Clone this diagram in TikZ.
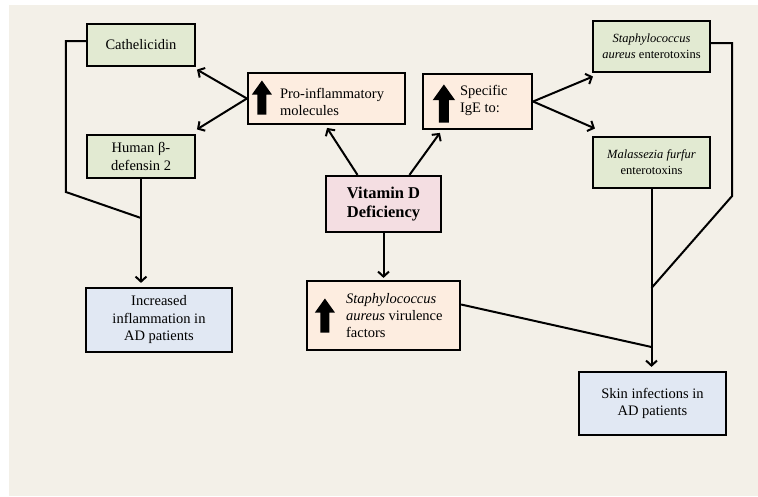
\documentclass[tikz,border=0pt]{standalone}
\usepackage{fontspec}
\setmainfont{Liberation Serif}
\usetikzlibrary{arrows.meta}

\definecolor{bgbeige}{RGB}{243,240,232}
\definecolor{leafgreen}{RGB}{226,234,210}
\definecolor{peach}{RGB}{253,237,224}
\definecolor{rosepink}{RGB}{244,222,226}
\definecolor{paleblue}{RGB}{225,232,243}

% fat black "increase" arrow, centred at the given point
\newcommand{\fatup}[2][1]{\fill[black, shift={(#2)}, scale=#1] (-4.5,17) -- ++(9,0) -- ++(0,-20) -- ++(5.5,0) -- ++(-10,-14) -- ++(-10,14) -- ++(5.5,0) -- cycle;}

\begin{document}
\begin{tikzpicture}[x=1pt, y=-1pt,
  box/.style={draw, line width=2.2pt, inner sep=2pt, align=center,
    font=\fontsize{14.5}{17.5}\selectfont},
  smallbox/.style={box, font=\fontsize{12.5}{16}\selectfont},
  txt/.style={anchor=west, align=left, inner sep=0pt,
    font=\fontsize{14.5}{17}\selectfont},
  link/.style={line width=2pt},
  arrow/.style={link, -{Straight Barb[length=5pt,width=11pt]}, shorten >=1pt}]

  % -- Background --
  \fill[white] (0,0) rectangle (758,496);
  \useasboundingbox (0,0) rectangle (758,496);
  \fill[bgbeige] (9,5) rectangle (758,496);

  % -- Left column --
  \node[box, fill=leafgreen, minimum width=108pt, minimum height=42pt] (cath) at (141,45) {Cathelicidin};
  \node[box, fill=leafgreen, minimum width=108pt, minimum height=43pt] (hbd) at (141,156.5) {Human β-\\defensin 2};
  \node[box, fill=paleblue, minimum width=146pt, minimum height=64pt] (infl) at (159,320) {Increased\\inflammation in\\AD patients};

  % -- Middle column --
  \node[box, fill=peach, minimum width=157pt, minimum height=51pt] (pro) at (326.5,98.5) {};
  \node[txt] (pro-txt) at ([xshift=33pt,yshift=-3pt]pro.west) {Pro-inflammatory\\molecules};
  \fatup{[xshift=15pt,yshift=1pt]pro.west}

  \node[box, fill=peach, minimum width=109pt, minimum height=55pt] (ige) at (477.5,101.5) {};
  \node[txt] (ige-txt) at ([xshift=38pt,yshift=1pt]ige.west) {Specific\\IgE to:};
  \fatup[1.12]{[xshift=22pt,yshift=-2pt]ige.west}

  \node[box, fill=rosepink, minimum width=115pt, minimum height=56pt,
    font=\fontsize{16.5}{19}\selectfont\bfseries] (vitd) at (383.5,204) {Vitamin D\\Deficiency};

  \node[box, fill=peach, minimum width=153pt, minimum height=69pt] (vir) at (383.5,315.5) {};
  \node[txt] (vir-txt) at ([xshift=40pt]vir.west) {\textit{Staphylococcus}\\\textit{aureus} virulence\\factors};
  \fatup{[xshift=19pt]vir.west}

  % -- Right column --
  \node[smallbox, fill=leafgreen, minimum width=117pt, minimum height=51pt] (sae) at (651.5,46.5) {\textit{Staphylococcus}\\\textit{aureus} enterotoxins};
  \node[smallbox, fill=leafgreen, minimum width=117pt, minimum height=51pt] (mal) at (651.5,162.5) {\textit{Malassezia furfur}\\enterotoxins};
  \node[box, fill=paleblue, minimum width=147pt, minimum height=63pt] (skin) at (652.5,403.5) {Skin infections in\\AD patients};

  % -- Junctions --
  \coordinate (jl) at (hbd.south |- 0,218);
  \coordinate (jr) at (mal.south |- 0,288);
  \coordinate (js) at (mal.south |- 0,347);

  % -- Vitamin D out --
  \draw[arrow] ([xshift=-26pt]vitd.north) -- ([yshift=-2pt]pro.south);
  \draw[arrow] ([xshift=26pt]vitd.north) -- ([xshift=-37pt,yshift=-2pt]ige.south);
  \draw[arrow, shorten >=2pt] (vitd.south) -- (vir.north);

  % -- Pro-inflammatory out --
  \draw[arrow] (pro.west) -- ([yshift=-2pt]cath.south east);
  \draw[arrow] (pro.west) -- ([yshift=4pt]hbd.north east);

  % -- IgE out --
  \draw[arrow] (ige.east) -- ([shift={(2pt,-3pt)}]sae.south west);
  \draw[arrow] (ige.east) -- ([shift={(4pt,7pt)}]mal.north west);

  % -- Left merge --
  \draw[link] ([yshift=4pt]cath.west) -- ++(-20,0) -- ++(0,151) -- (jl);
  \draw[arrow, shorten >=4pt] (hbd.south) -- (jl) -- (jl |- infl.north);

  % -- Right merge --
  \draw[link] ([yshift=3.5pt]sae.east) -- ++(21,0) -- ++(0,153) -- (jr);
  \draw[link] ([yshift=11pt]vir.east) -- (js);
  \draw[arrow, shorten >=4pt] (mal.south) -- (jr) -- (js) -- (js |- skin.north);

\end{tikzpicture}
\end{document}
